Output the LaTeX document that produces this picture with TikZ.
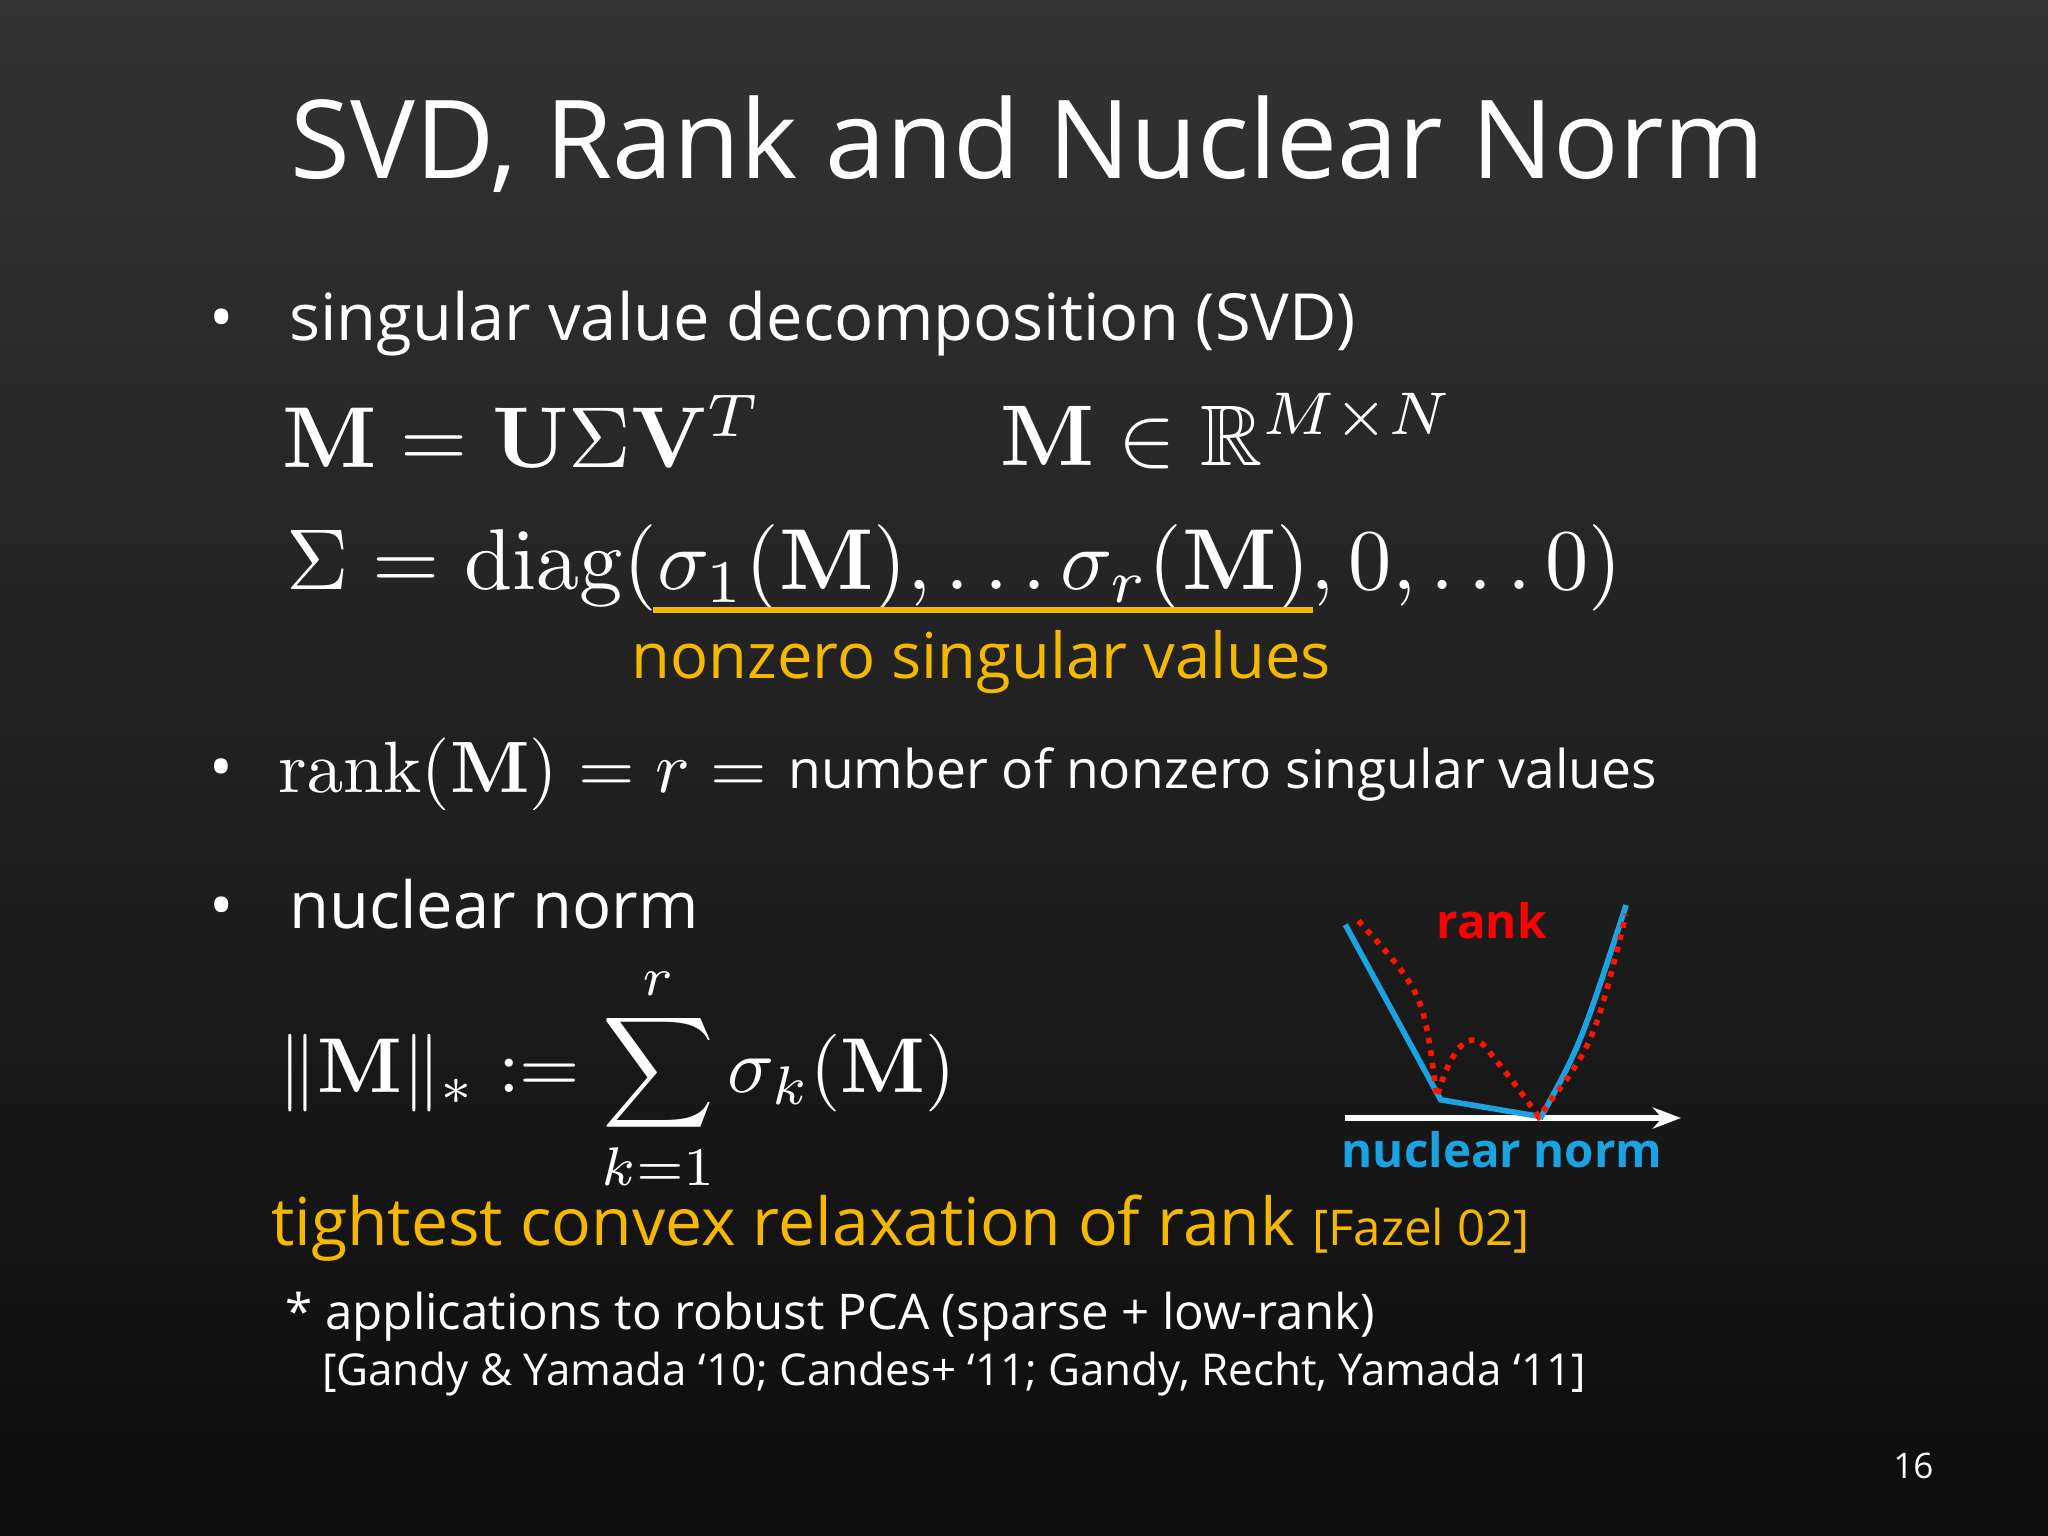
\documentclass[tikz,border=0pt]{standalone}
\usepackage{amsmath,amssymb}
\usepackage[no-math]{fontspec}
\setmainfont{Open Sans}
\usetikzlibrary{arrows.meta}
\definecolor{yel}{HTML}{F5B800}
\definecolor{blu}{HTML}{1AA3E0}
\tikzset{t/.style={text=white,anchor=west,inner sep=0pt},
 fs/.style={font=\fontsize{#1}{#1}\selectfont},
 ms/.style={font=\fontsize{10}{10}\selectfont,scale=#1/10,transform shape}}
\begin{document}
\begin{tikzpicture}[x=0.01306cm,y=-0.01306cm]
\shade[top color=black!80!white!100,bottom color=black!95] (0,0) rectangle (1568,1176);
\useasboundingbox (0,0) rectangle (1568,1176);
\node[t,fs=31] (title) at (222,110) {SVD, Rank and Nuclear Norm};
\node[t,fs=18.5] (b1) at (160,248) {•\hspace{0.85em}singular value decomposition (SVD)};
\node[t,ms=24.6] (m1) at (215,330) {$\mathbf{M}=\mathbf{U}\Sigma\mathbf{V}^T$};
\node[t,ms=24.5] (m2) at (765,330) {$\mathbf{M}\in\mathbb{R}^{M\times N}$};
\node[t,ms=24.6] (m3) at (218,435) {$\Sigma=\mathrm{diag}(\sigma_1(\mathbf{M}),\ldots\sigma_r(\mathbf{M}),0,\ldots 0)$};
\coordinate (u1) at (500,467); \coordinate (u2) at (1005,467);
\draw[yel,line width=1.5pt] (u1) -- (u2);
\node[t,fs=18,text=yel] (nz) at (483,507) {nonzero singular values};
\node[t,fs=18] (b2) at (160,593) {•};
\node[t,ms=20.7] (rk) at (212,593) {$\mathrm{rank}(\mathbf{M})=r=$};
\node[t,fs=15.2] (rk2) at (603,593) {number of nonzero singular values};
\node[t,fs=18.5] (b3) at (160,692) {•\hspace{0.85em}nuclear norm};
\node[t,ms=22.1] (nn) at (212,826) {$\|\mathbf{M}\|_*:=\displaystyle\sum_{k=1}^{r}\sigma_k(\mathbf{M})$};
\node[t,fs=18.8,text=yel] (tc) at (207,940) {tightest convex relaxation of rank \fontsize{14}{14}\selectfont[Fazel 02]};
\node[t,fs=14] (ap) at (218,1008) {* applications to robust PCA (sparse + low-rank)};
\node[t,fs=12.5] (ap2) at (246,1052) {[Gandy \& Yamada ‘10; Candes+ ‘11; Gandy, Recht, Yamada ‘11]};
\node[t,fs=10] (pg) at (1449,1122) {16};
% graph
\coordinate (o) at (1030,856); \coordinate (e) at (1287,856);
\draw[white,line width=1.6pt,-{Stealth[length=8pt]}] (o) -- (e);
\coordinate (a) at (1030,708); \coordinate (b) at (1103,842); \coordinate (c) at (1180,855); \coordinate (d) at (1245,693);
\draw[blu,line width=1.6pt] (a) -- (b) -- (c) .. controls (1210,800) .. (d);
\draw[red!85!orange,line width=1.6pt,dotted] (1040,705) .. controls (1090,760) .. (1100,840) .. controls (1115,790) and (1130,790) .. (1140,805) .. controls (1160,830) .. (1178,855) .. controls (1220,800) .. (1245,700);
\node[fs=13.5,text=red] (rl) at (1142,705) {\bfseries rank};
\node[fs=13.5,text=blu] (nl) at (1150,880) {\bfseries nuclear norm};
\end{tikzpicture}
\end{document}
